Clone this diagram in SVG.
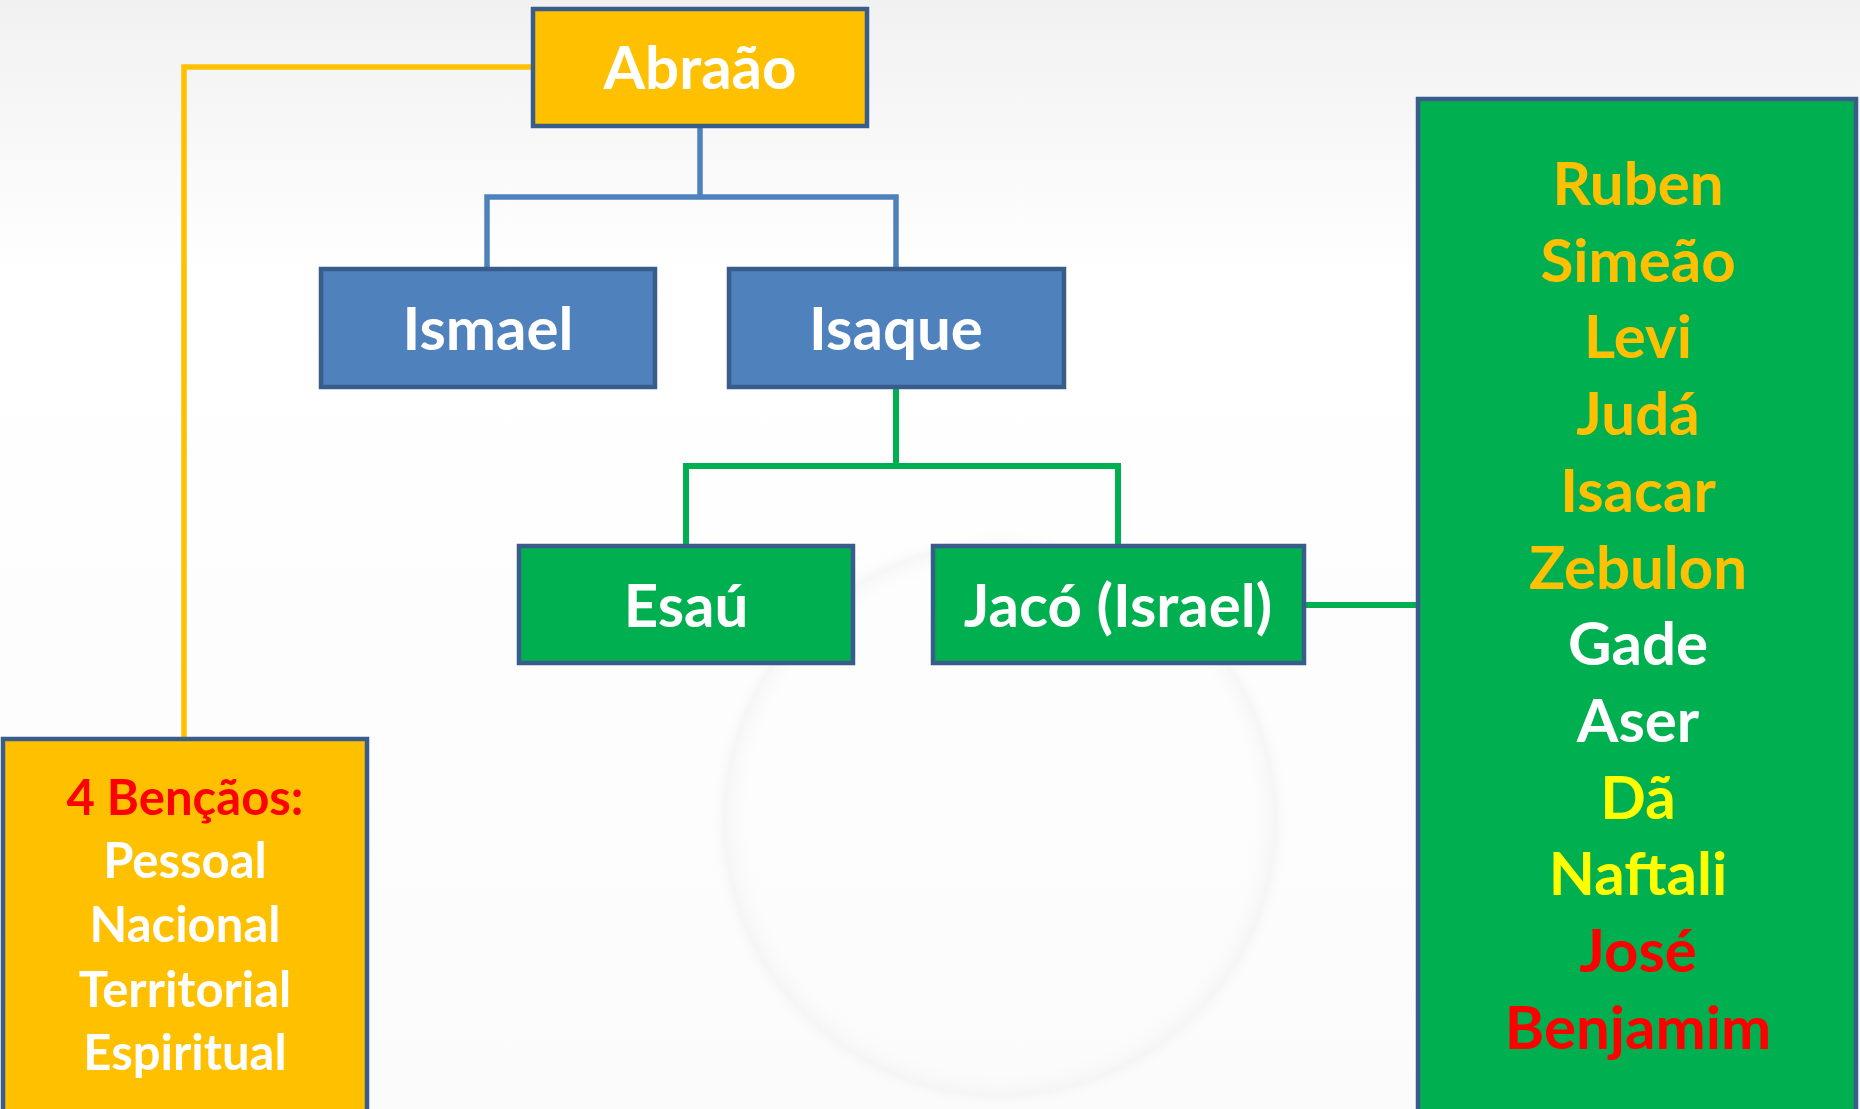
<svg xmlns="http://www.w3.org/2000/svg" width="1860" height="1109" viewBox="0 0 1860 1109">
  <defs>
    <linearGradient id="bg" x1="0" y1="0" x2="0" y2="1">
      <stop offset="0" stop-color="#f1f1f1"/>
      <stop offset="0.25" stop-color="#ffffff"/>
      <stop offset="1" stop-color="#fbfbfb"/>
    </linearGradient>
    <radialGradient id="lens" cx="0.5" cy="0.5" r="0.5">
      <stop offset="0.85" stop-color="#ffffff" stop-opacity="0"/>
      <stop offset="0.95" stop-color="#e6e6e6" stop-opacity="0.3"/>
      <stop offset="1" stop-color="#ffffff" stop-opacity="0"/>
    </radialGradient>
  </defs>
  <style>
    .box { stroke: #385D8A; stroke-width: 4.5; }
    .orange { fill: #FFC000; }
    .blue { fill: #4F81BD; }
    .green { fill: #00B050; }
    .lbl { font-family: Lato, "Open Sans", "Liberation Sans", sans-serif; font-weight: bold; text-anchor: middle; }
    .node { font-size: 60px; fill: #FFFFFF; }
    .tribe { font-size: 60px; }
    .bless { font-size: 49px; fill: #FFFFFF; }
    .conn { fill: none; stroke-linejoin: miter; stroke-linecap: butt; }
  </style>
  <rect x="0" y="0" width="1860" height="1109" fill="url(#bg)"/>
  <circle cx="1000" cy="820" r="290" fill="url(#lens)"/>

  <g id="connectors">
    <path class="conn" d="M700,126 V197 H487 V269 M700,197 H896 V269" stroke="#4F81BD" stroke-width="5.5"/>
    <path class="conn" d="M896,387 V466 H686 V546 M896,466 H1118 V546" stroke="#00B050" stroke-width="6"/>
    <path class="conn" d="M1305,605 H1418" stroke="#00B050" stroke-width="6"/>
    <path class="conn" d="M533,67 H184 V739" stroke="#FFC000" stroke-width="5.5"/>
  </g>

  <g id="abraao">
    <rect class="box orange" x="533" y="9" width="334" height="117"/>
    <text class="lbl node" x="700" y="89">Abraão</text>
  </g>
  <g id="ismael">
    <rect class="box blue" x="321" y="269" width="334" height="118"/>
    <text class="lbl node" x="488" y="350">Ismael</text>
  </g>
  <g id="isaque">
    <rect class="box blue" x="729" y="269" width="335" height="118"/>
    <text class="lbl node" x="896" y="350">Isaque</text>
  </g>
  <g id="esau">
    <rect class="box green" x="519" y="546" width="334" height="117"/>
    <text class="lbl node" x="686" y="627">Esaú</text>
  </g>
  <g id="jaco">
    <rect class="box green" x="933" y="546" width="371" height="117"/>
    <text class="lbl node" x="1118" y="627">Jacó (Israel)</text>
  </g>
  <g id="tribos">
    <rect class="box green" x="1418" y="99" width="438" height="1020"/>
    <text class="lbl tribe" x="1638" y="205" fill="#FFC000">Ruben</text>
    <text class="lbl tribe" x="1638" y="282" fill="#FFC000">Simeão</text>
    <text class="lbl tribe" x="1638" y="358" fill="#FFC000">Levi</text>
    <text class="lbl tribe" x="1638" y="435" fill="#FFC000">Judá</text>
    <text class="lbl tribe" x="1638" y="512" fill="#FFC000">Isacar</text>
    <text class="lbl tribe" x="1638" y="589" fill="#FFC000">Zebulon</text>
    <text class="lbl tribe" x="1638" y="665" fill="#FFFFFF">Gade</text>
    <text class="lbl tribe" x="1638" y="742" fill="#FFFFFF">Aser</text>
    <text class="lbl tribe" x="1638" y="819" fill="#FFFF00">Dã</text>
    <text class="lbl tribe" x="1638" y="895" fill="#FFFF00">Naftali</text>
    <text class="lbl tribe" x="1638" y="972" fill="#FF0000">José</text>
    <text class="lbl tribe" x="1638" y="1049" fill="#FF0000">Benjamim</text>
  </g>
  <g id="bencaos">
    <rect class="box orange" x="3" y="739" width="364" height="380"/>
    <text class="lbl bless" x="185" y="815" style="fill:#FF0000">4 Bençãos:</text>
    <text class="lbl bless" x="185" y="878">Pessoal</text>
    <text class="lbl bless" x="185" y="942">Nacional</text>
    <text class="lbl bless" x="185" y="1007">Territorial</text>
    <text class="lbl bless" x="185" y="1070">Espiritual</text>
  </g>
</svg>
